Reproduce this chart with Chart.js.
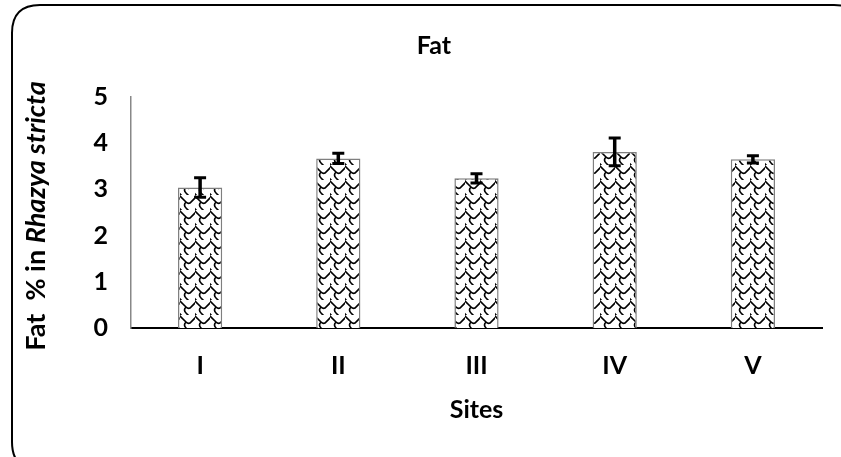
<!DOCTYPE html>
<html>
<head>
<meta charset="utf-8">
<script src="https://cdn.jsdelivr.net/npm/chart.js@4.4.1/dist/chart.umd.min.js"></script>
<style>
html,body{margin:0;padding:0;background:#fff;}
#wrap{width:841px;height:457px;position:relative;}
</style>
</head>
<body>
<div id="wrap"><canvas id="c" width="841" height="457"></canvas></div>
<script>
const categories = ['I', 'II', 'III', 'IV', 'V'];
const fatValues = [3.04, 3.67, 3.24, 3.81, 3.65];
const fatErrors = [0.21, 0.11, 0.10, 0.30, 0.08];
const yTicks = [0, 1, 2, 3, 4, 5];
const chartTitle = 'Fat';
const xTitle = 'Sites';
const yTitlePlain = 'Fat  % in ';
const yTitleItalic = 'Rhazya stricta';

const FONT = 'Lato, "Open Sans", sans-serif';
const FS = 25;

function makePattern() {
  const t = document.createElement('canvas');
  t.width = 15; t.height = 15;
  const g = t.getContext('2d');
  g.fillStyle = '#fff';
  g.fillRect(0, 0, 15, 15);
  g.strokeStyle = '#000';
  g.lineWidth = 1.6;
  g.beginPath();
  g.moveTo(-1, 0); g.lineTo(6, 7); g.quadraticCurveTo(8, 9, 10, 8); g.lineTo(16, 2);
  g.moveTo(6, 7); g.quadraticCurveTo(3, 10, 6, 13); g.lineTo(9, 16);
  g.moveTo(-1, 13); g.lineTo(2, 16);
  g.stroke();
  return g.createPattern(t, 'repeat');
}

const framePlugin = {
  id: 'frame',
  beforeDraw(chart) {
    const ctx = chart.ctx;
    ctx.save();
    ctx.fillStyle = '#fff';
    ctx.fillRect(0, 0, chart.width, chart.height);
    ctx.strokeStyle = '#000';
    ctx.lineWidth = 2;
    const x = 12, y = 5, w = 850, h = 465, r = 28;
    ctx.beginPath();
    ctx.moveTo(x + r, y);
    ctx.lineTo(x + w - r, y);
    ctx.quadraticCurveTo(x + w, y, x + w, y + r);
    ctx.lineTo(x + w, y + h - r);
    ctx.quadraticCurveTo(x + w, y + h, x + w - r, y + h);
    ctx.lineTo(x + r, y + h);
    ctx.quadraticCurveTo(x, y + h, x, y + h - r);
    ctx.lineTo(x, y + r);
    ctx.quadraticCurveTo(x, y, x + r, y);
    ctx.stroke();
    // chart title
    ctx.fillStyle = '#000';
    ctx.font = 'bold ' + FS + 'px ' + FONT;
    ctx.textAlign = 'center';
    ctx.textBaseline = 'middle';
    ctx.fillText(chartTitle, 434, 46);
    ctx.restore();
  },
  afterDatasetsDraw(chart) {
    const ctx = chart.ctx;
    const xs = chart.scales.x, ys = chart.scales.y;
    ctx.save();
    ctx.strokeStyle = '#000';
    ctx.lineCap = 'butt';
    fatValues.forEach((v, i) => {
      const cx = xs.getPixelForValue(i);
      const top = ys.getPixelForValue(v + fatErrors[i]);
      const bot = ys.getPixelForValue(v - fatErrors[i]);
      ctx.lineWidth = 3.5;
      ctx.beginPath();
      ctx.moveTo(cx, top); ctx.lineTo(cx, bot);
      ctx.stroke();
      ctx.lineWidth = 3;
      ctx.beginPath();
      ctx.moveTo(cx - 6, top); ctx.lineTo(cx + 6, top);
      ctx.moveTo(cx - 6, bot); ctx.lineTo(cx + 6, bot);
      ctx.stroke();
    });
    ctx.translate(36, 216);
    ctx.rotate(-Math.PI / 2);
    ctx.fillStyle = '#000';
    ctx.textBaseline = 'middle';
    const f1 = 'bold 27px ' + FONT;
    const f2 = 'italic bold 27px ' + FONT;
    ctx.font = f1; const w1 = ctx.measureText(yTitlePlain).width;
    ctx.font = f2; const w2 = ctx.measureText(yTitleItalic).width;
    const start = -(w1 + w2) / 2;
    ctx.textAlign = 'left';
    ctx.font = f1; ctx.fillText(yTitlePlain, start, 0);
    ctx.font = f2; ctx.fillText(yTitleItalic, start + w1, 0);
    ctx.restore();
  }
};

new Chart(document.getElementById('c'), {
  type: 'bar',
  data: {
    labels: categories,
    datasets: [{
      data: fatValues,
      backgroundColor: makePattern(),
      borderColor: '#7f7f7f',
      borderWidth: 1.5,
      categoryPercentage: 1,
      barPercentage: 0.32
    }]
  },
  options: {
    responsive: false,
    animation: false,
    devicePixelRatio: 1,
    layout: { padding: { left: 0, right: 19, top: 97, bottom: 0 } },
    plugins: {
      legend: { display: false },
      tooltip: { enabled: false },
      title: { display: false }
    },
    scales: {
      x: {
        grid: { display: false, drawTicks: false },
        border: { display: true, color: '#000', width: 2 },
        ticks: { color: '#000', padding: 23, font: { family: FONT, size: FS, weight: 'bold', lineHeight: 1.2 } },
        title: { display: true, text: xTitle, color: '#000', font: { family: FONT, size: FS, weight: 'bold', lineHeight: 1.2 }, padding: { top: 0, bottom: 32 } },
        afterFit(s) { s.height = 129; }
      },
      y: {
        min: 0, max: 5,
        afterBuildTicks(s) { s.ticks = yTicks.map(v => ({ value: v })); },
        grid: { display: false, drawTicks: false },
        border: { display: true, color: '#888', width: 1.5 },
        ticks: { color: '#000', padding: 23, font: { family: FONT, size: FS, weight: 'bold' } },
        afterFit(s) { s.width = 131; }
      }
    }
  },
  plugins: [framePlugin]
});
</script>
</body>
</html>
